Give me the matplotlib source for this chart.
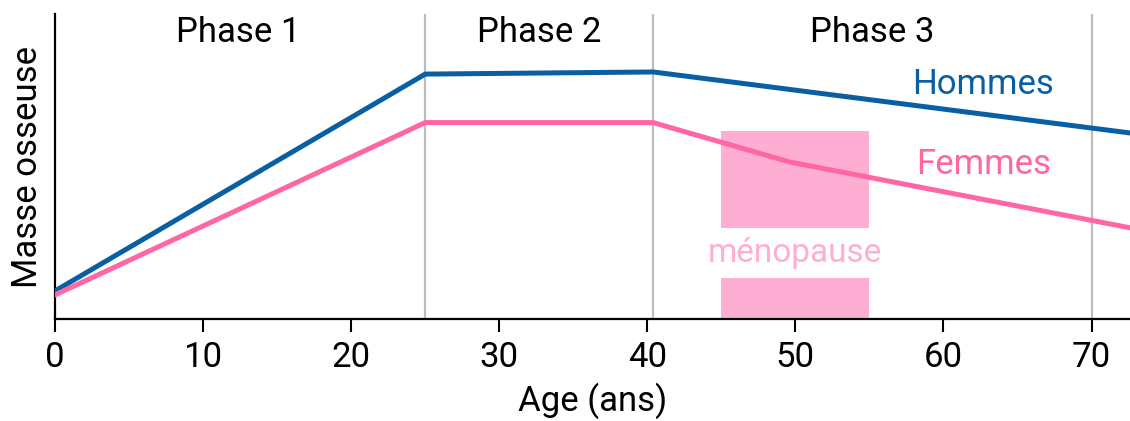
import matplotlib.pyplot as plt
from matplotlib.patches import Rectangle

plt.rcParams['font.family'] = ['Roboto', 'DejaVu Sans']

age_h = [0, 25, 40.4, 72.6]
masse_h = [9.2, 80.3, 81.0, 61.0]
age_f = [0, 25, 40.4, 49.6, 72.6]
masse_f = [7.9, 64.4, 64.4, 51.5, 29.9]

phases = [25, 40.4, 70]
phase_labels = ["Phase 1", "Phase 2", "Phase 3"]
phase_x = [12.4, 32.7, 55.2]
xticks = [0, 10, 20, 30, 40, 50, 60, 70]

blue = "#0a5fa3"
pink = "#ff66a3"
light = "#ffaed3"

fig = plt.figure(figsize=(11.3, 4.21), dpi=100)
ax = fig.add_axes([0.0487, 0.2423, 0.9513, 0.7244])

for p in phases:
    ax.axvline(p, color="#bdbdbd", lw=1.6, zorder=1)

# menopause zone, split around the label
ax.add_patch(Rectangle((45, 29.7), 10, 32.0, color=light, lw=0, zorder=2))
ax.add_patch(Rectangle((45, 0), 10, 13.5, color=light, lw=0, zorder=2))
ax.text(50, 21.6, "ménopause", color=light, fontsize=24, ha="center", va="center")

ax.plot(age_h, masse_h, color=blue, lw=3.6, zorder=3, solid_joinstyle="miter")
ax.plot(age_f, masse_f, color=pink, lw=3.6, zorder=3, solid_joinstyle="miter")

ax.text(62.7, 77.0, "Hommes", color=blue, fontsize=25, ha="center", va="center")
ax.text(62.7, 50.8, "Femmes", color=pink, fontsize=25, ha="center", va="center")
for lab, x in zip(phase_labels, phase_x):
    ax.text(x, 94.0, lab, fontsize=25, ha="center", va="center")

ax.set_xlim(0, 72.6)
ax.set_ylim(0, 100)
ax.set_xticks(xticks)
ax.set_yticks([])
ax.tick_params(axis="x", labelsize=25, length=9, width=1.5, pad=7)
ax.spines["top"].set_visible(False)
ax.spines["right"].set_visible(False)
ax.spines["left"].set_linewidth(1.6)
ax.spines["bottom"].set_linewidth(1.6)
ax.set_xlabel("Age (ans)", fontsize=25, labelpad=6)
ax.set_ylabel("Masse osseuse", fontsize=25, labelpad=8)

fig.savefig("out.png", dpi=100)
